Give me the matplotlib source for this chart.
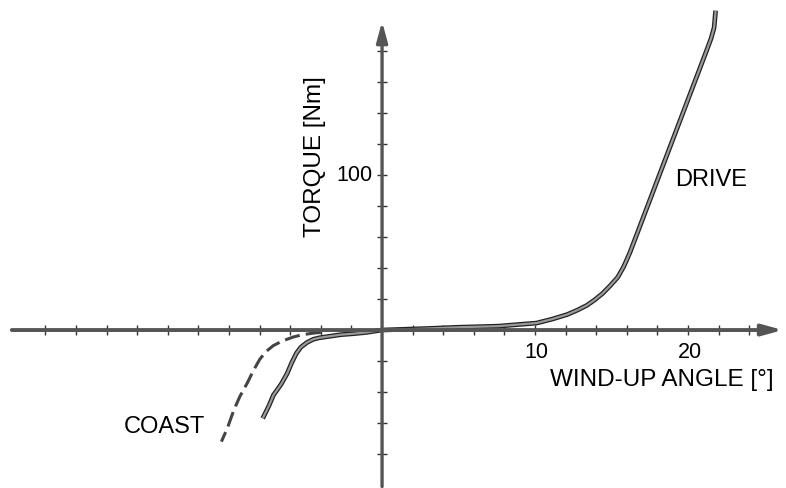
import numpy as np
import matplotlib
matplotlib.use("Agg")
import matplotlib.pyplot as plt
import matplotlib.patheffects as pe

plt.rcParams["font.family"] = ["Liberation Sans", "DejaVu Sans"]

# Drive curve (wind-up angle in degrees, torque in Nm)
drive_angle = [0, 3, 5, 7.6, 10.1, 11.1, 12.1, 12.8, 13.4, 13.9, 14.4, 14.9, 15.4, 15.8,
               16.2, 16.7, 17.2, 17.7, 18.2, 18.7, 19.2, 19.7, 20.2, 20.7, 21.2, 21.5, 21.7, 21.8]
drive_torque = [0, 1, 1.8, 2.5, 4.5, 7, 10, 13, 16, 19.5, 23.5, 28.5, 34, 41,
                50, 63, 76, 89, 102, 115, 128, 141, 154, 167, 180, 188, 195, 206]

# Coast curve, solid
coast_angle = [0, -1.0, -1.8, -2.7, -3.4, -4.1, -4.5, -4.9, -5.3, -5.6, -5.9, -6.2, -6.6,
               -7.1, -7.4, -7.8]
coast_torque = [0, -1.5, -2.3, -3, -4, -5, -6, -8, -11, -15, -21, -28, -35, -42, -49, -57]

# Coast curve, dashed
coast2_angle = [-4.0, -4.5, -5.2, -5.8, -6.5, -7.1, -7.6, -8.0, -8.4, -8.8, -9.3, -9.7,
                -10.1, -10.5]
coast2_torque = [-1.5, -2, -3, -4.5, -7, -10, -14, -19, -26, -34, -43, -52, -63, -72]

fig = plt.figure(figsize=(7.86, 4.88), dpi=100)
ax = fig.add_axes([0, 0, 1, 1])
ax.set_xlim(-24.97, 26.4)
ax.set_ylim(-101.9, 212.9)
ax.axis("off")

line_fx = [pe.Stroke(linewidth=3.4, foreground="#222222"), pe.Normal()]
arrow = "-|>,head_length=1.1,head_width=0.3"

# axes with arrows
ax.annotate("", xy=(26.2, 0), xytext=(-24.2, 0),
            arrowprops=dict(arrowstyle=arrow, lw=2.8, color="#555555", mutation_scale=11,
                            shrinkA=0, shrinkB=0))
ax.annotate("", xy=(0, 199), xytext=(0, -101),
            arrowprops=dict(arrowstyle=arrow, lw=2.4, color="#555555", mutation_scale=11,
                            shrinkA=0, shrinkB=0))

xt = [t for t in np.arange(-22, 25, 2) if t != 0]
ax.plot(xt, np.zeros(len(xt)), ls="none", marker="|", ms=7, mew=1.0, color="#333333")
yt = [t for t in np.arange(-80, 181, 20) if t != 0]
ax.plot(np.zeros(len(yt)), yt, ls="none", marker="_", ms=7, mew=1.0, color="#333333")

# curves
ax.plot(drive_angle, drive_torque, color="#9a9a9a", lw=1.6, path_effects=line_fx,
        solid_capstyle="butt", solid_joinstyle="round")
ax.plot(coast_angle, coast_torque, color="#9a9a9a", lw=1.6, path_effects=line_fx,
        solid_capstyle="butt", solid_joinstyle="round")
ax.plot(coast2_angle, coast2_torque, color="#444444", lw=2.2, dashes=(5, 2))

# labels
ax.text(-4.38, 111.6, "TORQUE [Nm]", rotation=90, ha="center", va="center", fontsize=17.5)
ax.text(-0.6, 100, "100", ha="right", va="center", fontsize=15.5)
ax.text(10.1, -14.8, "10", ha="center", va="center", fontsize=15.5)
ax.text(20.1, -14.8, "20", ha="center", va="center", fontsize=15.5)
ax.text(18.3, -32, "WIND-UP ANGLE [°]", ha="center", va="center", fontsize=17.5)
ax.text(21.5, 96.8, "DRIVE", ha="center", va="center", fontsize=17)
ax.text(-14.2, -62.6, "COAST", ha="center", va="center", fontsize=17)

fig.savefig("out.png", dpi=100)
